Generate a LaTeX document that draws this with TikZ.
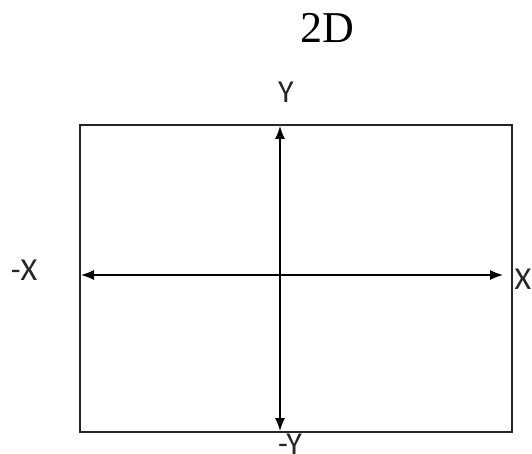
\documentclass[tikz,border=0pt]{standalone}
\usepackage{fontspec}
\setmainfont{Liberation Serif}
\newfontfamily\labfont{Carlito}
\usetikzlibrary{arrows.meta}
\begin{document}
\begin{tikzpicture}[x=1pt,y=-1pt,
  frame/.style={draw=black!85,line width=1.5pt},
  axis/.style={draw=black,line width=1.3pt,{Latex[length=13pt,width=10pt]}-{Latex[length=13pt,width=10pt]}},
  lab/.style={font=\labfont\fontsize{32}{36}\selectfont,inner sep=0pt,text=black!85},
  title/.style={font=\fontsize{44}{48}\selectfont,inner sep=0pt}]
\useasboundingbox (0,0) rectangle (532,454);
\node[frame,minimum width=432pt,minimum height=307pt,inner sep=0pt] (box) at (296,278.5) {};
\node[title] (t) at (327,28) {2D};
\coordinate (top) at (280,126);
\coordinate (bot) at (280,431);
\coordinate (lft) at (81,275);
\coordinate (rgt) at (503,275);
\draw[axis] (bot) -- (top);
\draw[axis] (lft) -- (rgt);
\node[lab] (y) at (286,92) {Y};
\node[lab] (ny) at (290,444) {-Y};
\node[lab] (nx) at (24,270) {-X};
\node[lab] (x) at (523,279) {X};
\end{tikzpicture}
\end{document}
